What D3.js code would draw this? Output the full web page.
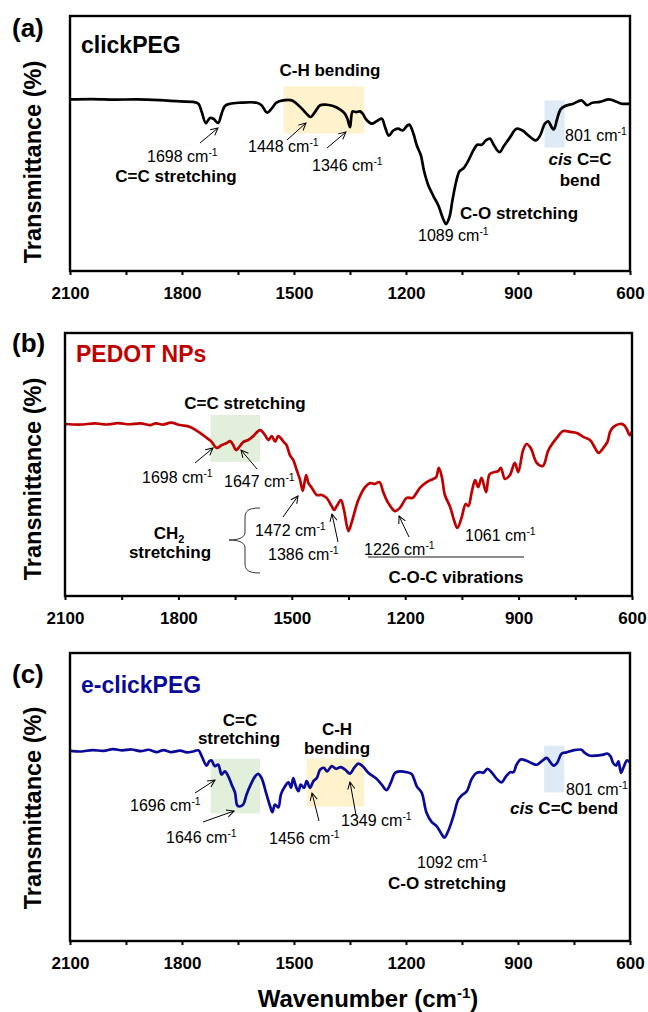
<!DOCTYPE html>
<html>
<head>
<meta charset="utf-8">
<script src="https://cdn.jsdelivr.net/npm/d3@7"></script>
<style>
	body { margin: 0; background: #fff; }
	svg { display: block; font-family: "Liberation Sans", Arial, sans-serif; }
</style>
</head>
<body>
<div id="chart"></div>
<script>
// ---- values ----
// x = wavenumber (cm-1), y = transmittance on an arbitrary 0-100 scale (no y ticks in the original)
const majorTicks = [2100, 1800, 1500, 1200, 900, 600];
const minorTicks = [1950, 1650, 1350, 1050, 750];

const clickPEG = [
	[2100, 67.3], [2040, 67.4], [1980, 67.2], [1920, 67.3], [1860, 67.0], [1805, 66.5], [1770, 66.3],
	[1756, 65.6], [1747, 62.3], [1736, 58.0], [1725, 60.0], [1716, 59.7], [1703, 58.1], [1694, 61.7],
	[1685, 64.7], [1671, 65.6], [1645, 66.0], [1600, 66.0], [1587, 65.0], [1572, 62.1], [1560, 63.7],
	[1547, 66.0], [1529, 66.9], [1506, 66.9], [1493, 65.6], [1477, 63.4], [1464, 61.3], [1455, 60.4],
	[1444, 62.3], [1430, 65.0], [1412, 65.2], [1395, 64.7], [1377, 63.4], [1364, 61.7], [1357, 59.7],
	[1350, 56.4], [1343, 62.6], [1334, 62.3], [1323, 62.6], [1316, 61.7], [1305, 59.1], [1292, 57.8],
	[1279, 58.7], [1265, 59.7], [1256, 56.4], [1246, 53.1], [1234, 55.1], [1221, 55.8], [1209, 55.1],
	[1198, 56.8], [1191, 57.4], [1180, 53.8], [1171, 49.2], [1160, 45.3], [1152, 39.4], [1140, 33.5],
	[1127, 29.5], [1113, 25.6], [1102, 21.0], [1093, 18.4], [1084, 21.0], [1075, 28.2], [1066, 34.8],
	[1057, 39.0], [1046, 40.3], [1033, 43.3], [1020, 47.2], [1009, 49.5], [997, 49.5], [986, 51.2],
	[975, 51.9], [964, 49.2], [950, 46.6], [937, 49.2], [921, 52.5], [904, 55.8], [888, 55.1],
	[870, 52.9], [852, 51.2], [841, 53.1], [828, 57.8], [819, 58.7], [810, 56.4], [804, 55.5],
	[795, 59.7], [786, 63.4], [774, 64.7], [752, 65.6], [730, 66.9], [715, 65.0], [701, 66.0],
	[681, 66.3], [656, 67.3], [638, 66.5], [623, 65.6], [600, 65.6]
];

const pedotNPs = [
	[2100, 65.4], [2060, 65.2], [2020, 65.6], [1990, 65.2], [1960, 65.7], [1930, 65.3], [1900, 65.6],
	[1875, 65.0], [1860, 65.6], [1840, 65.2], [1820, 65.9], [1796, 65.0], [1769, 64.3], [1743, 62.0],
	[1725, 60.1], [1712, 58.6], [1699, 56.3], [1685, 57.4], [1672, 58.2], [1663, 58.9], [1655, 57.4],
	[1648, 55.5], [1639, 56.7], [1628, 58.6], [1615, 59.3], [1602, 60.8], [1584, 63.1], [1571, 61.2],
	[1562, 59.3], [1553, 60.8], [1544, 58.7], [1536, 60.8], [1522, 58.7], [1514, 57.4], [1505, 53.6],
	[1496, 51.7], [1487, 47.9], [1478, 44.1], [1471, 40.0], [1462, 46.0], [1456, 42.9], [1447, 41.1],
	[1434, 38.4], [1421, 38.4], [1408, 37.3], [1394, 34.0], [1388, 32.7], [1381, 34.2], [1370, 36.5],
	[1362, 32.7], [1350, 24.7], [1342, 27.8], [1324, 36.5], [1306, 41.4], [1293, 42.9], [1280, 42.6],
	[1268, 43.3], [1258, 39.5], [1245, 35.4], [1227, 32.3], [1214, 33.5], [1196, 37.3], [1180, 37.3],
	[1170, 39.2], [1161, 41.1], [1143, 43.3], [1126, 44.5], [1118, 45.2], [1111, 48.7], [1103, 45.2],
	[1095, 38.4], [1081, 33.8], [1071, 28.9], [1062, 25.9], [1051, 29.7], [1040, 35.0], [1033, 34.2],
	[1024, 39.5], [1015, 44.1], [1007, 41.4], [998, 44.9], [986, 39.5], [976, 46.4], [954, 47.5],
	[947, 48.7], [936, 44.5], [923, 46.0], [910, 50.6], [901, 47.1], [888, 55.5], [879, 57.8],
	[868, 56.3], [852, 50.6], [836, 49.4], [821, 55.5], [799, 60.1], [782, 62.7], [764, 62.4],
	[746, 62.0], [729, 60.5], [711, 59.3], [698, 56.3], [689, 54.4], [680, 55.5], [674, 56.7],
	[665, 58.6], [658, 62.4], [649, 64.3], [632, 65.4], [621, 65.0], [614, 63.5], [606, 61.2], [600, 62.4]
];

const eClickPEG = [
	[2100, 66.0], [2070, 65.8], [2040, 66.3], [2010, 66.0], [1985, 66.6], [1960, 66.2], [1935, 66.5],
	[1910, 65.9], [1890, 66.4], [1867, 65.6], [1850, 66.3], [1830, 65.6], [1805, 66.1], [1787, 65.5],
	[1770, 65.8], [1756, 66.2], [1747, 64.1], [1734, 60.9], [1727, 62.4], [1721, 62.7], [1712, 60.7],
	[1703, 61.2], [1694, 57.8], [1685, 58.9], [1676, 57.2], [1667, 54.3], [1658, 51.5], [1652, 47.1],
	[1645, 46.7], [1636, 47.4], [1627, 50.9], [1616, 54.3], [1604, 57.2], [1596, 58.0], [1587, 56.6],
	[1575, 51.5], [1564, 46.8], [1558, 44.7], [1551, 47.4], [1542, 46.4], [1535, 50.9], [1524, 53.7],
	[1515, 55.1], [1508, 53.2], [1502, 56.6], [1495, 53.7], [1488, 52.0], [1482, 54.3], [1473, 53.2],
	[1466, 55.5], [1457, 53.2], [1448, 55.5], [1439, 56.6], [1430, 59.5], [1420, 60.1], [1411, 58.9],
	[1399, 60.7], [1387, 59.8], [1375, 60.4], [1363, 59.5], [1350, 58.1], [1339, 60.1], [1328, 61.6],
	[1316, 60.7], [1301, 58.4], [1279, 56.3], [1265, 54.3], [1252, 52.4], [1241, 54.9], [1229, 58.4],
	[1216, 58.9], [1198, 58.6], [1185, 58.0], [1171, 53.7], [1158, 51.5], [1145, 44.5], [1131, 41.3],
	[1118, 39.9], [1104, 37.0], [1097, 35.9], [1087, 38.2], [1073, 43.4], [1060, 49.1], [1051, 50.5],
	[1037, 52.0], [1024, 56.3], [1011, 58.4], [1000, 58.6], [993, 58.4], [982, 59.8], [971, 58.6],
	[957, 56.3], [944, 55.1], [932, 57.2], [921, 58.6], [912, 58.6], [904, 61.2], [893, 63.0],
	[879, 62.7], [864, 61.8], [850, 61.2], [837, 62.4], [823, 63.6], [813, 62.0], [804, 60.9],
	[795, 61.9], [783, 65.1], [770, 65.5], [752, 66.2], [730, 66.4], [721, 65.3], [709, 64.4],
	[689, 64.4], [671, 64.7], [661, 65.1], [652, 64.1], [645, 61.8], [637, 60.9], [631, 62.4],
	[624, 58.4], [617, 60.4], [608, 62.7], [600, 61.9]
];

// shaded regions: [from wavenumber, to wavenumber, low, high]
const bandsA = [[1528, 1312, 53.9, 72.4], [829, 775, 48.4, 66.9]];
const bandsB = [[1715, 1584, 51.0, 68.8]];
const bandsC = [[1723, 1591, 44.3, 63.3], [1466, 1312, 46.7, 63.3], [830, 776, 51.6, 67.8]];

// annotation text (k: wn = "#### cm-1", b = bold, cis = italic "cis" + bold rest, ch2 = CH2)
const notesA = [
	{ k: 'b', t: 'C-H bending', x: 330, y: 76, a: 'middle' },
	{ k: 'wn', t: '1698', x: 147, y: 162 },
	{ k: 'b', t: 'C=C stretching', x: 176, y: 182, a: 'middle' },
	{ k: 'wn', t: '1448', x: 248, y: 152 },
	{ k: 'wn', t: '1346', x: 312, y: 171 },
	{ k: 'wn', t: '801', x: 565, y: 141 },
	{ k: 'cis', t: 'C=C', x: 580, y: 165, a: 'middle' },
	{ k: 'b', t: 'bend', x: 580, y: 186, a: 'middle' },
	{ k: 'b', t: 'C-O stretching', x: 460, y: 219 },
	{ k: 'wn', t: '1089', x: 418, y: 241 }
];
const notesB = [
	{ k: 'b', t: 'C=C stretching', x: 245, y: 409, a: 'middle' },
	{ k: 'wn', t: '1698', x: 142, y: 483 },
	{ k: 'wn', t: '1647', x: 224, y: 487 },
	{ k: 'wn', t: '1472', x: 255, y: 536 },
	{ k: 'wn', t: '1386', x: 268, y: 560 },
	{ k: 'wn', t: '1226', x: 364, y: 555 },
	{ k: 'wn', t: '1061', x: 465, y: 541 },
	{ k: 'ch2', x: 169, y: 539, a: 'middle' },
	{ k: 'b', t: 'stretching', x: 170, y: 558, a: 'middle' },
	{ k: 'b', t: 'C-O-C vibrations', x: 456, y: 583, a: 'middle' }
];
const notesC = [
	{ k: 'b', t: 'C=C', x: 240, y: 726, a: 'middle' },
	{ k: 'b', t: 'stretching', x: 239, y: 744, a: 'middle' },
	{ k: 'b', t: 'C-H', x: 337, y: 735, a: 'middle' },
	{ k: 'b', t: 'bending', x: 337, y: 754, a: 'middle' },
	{ k: 'wn', t: '1696', x: 130, y: 811 },
	{ k: 'wn', t: '1646', x: 166, y: 843 },
	{ k: 'wn', t: '1456', x: 269, y: 844 },
	{ k: 'wn', t: '1349', x: 341, y: 826 },
	{ k: 'wn', t: '1092', x: 417, y: 868 },
	{ k: 'b', t: 'C-O stretching', x: 447, y: 889, a: 'middle' },
	{ k: 'wn', t: '801', x: 566, y: 795 },
	{ k: 'cis', t: 'C=C bend', x: 510, y: 814 }
];

// arrows [x1, y1, x2, y2] (tail -> head), page pixels
const arrowsA = [[200, 143, 218, 128], [287, 140, 306, 123], [327, 148, 346, 132]];
const arrowsB = [[195, 463, 213, 448], [257, 469, 241, 450], [283, 517, 298, 496], [338, 542, 332, 514], [409, 537, 399, 516]];
const arrowsC = [[195, 793, 215, 780], [203, 822, 234, 811], [319, 821, 312, 793], [356, 815, 350, 782]];

// ---- layout ----
const W = 648, H = 1012;
const font = '"Liberation Sans", Arial, sans-serif';

const panels = [
	{ tag: '(a)', name: 'clickPEG', color: '#000000', data: clickPEG, bands: bandsA, bandColors: ['#fff2cc', '#deebf7'],
		notes: notesA, arrows: arrowsA, box: { l: 70, r: 630, t: 16, b: 271 }, tagY: 37, nameY: 53, titleY: 162 },
	{ tag: '(b)', name: 'PEDOT NPs', color: '#c00000', data: pedotNPs, bands: bandsB, bandColors: ['#e2efda'],
		notes: notesB, arrows: arrowsB, box: { l: 65, r: 632, t: 333, b: 596 }, tagY: 352, nameY: 362, titleY: 479 },
	{ tag: '(c)', name: 'e-clickPEG', color: '#0a0a9a', data: eClickPEG, bands: bandsC, bandColors: ['#e2efda', '#fff2cc', '#deebf7'],
		notes: notesC, arrows: arrowsC, box: { l: 70, r: 630, t: 653, b: 941 }, tagY: 683, nameY: 693, titleY: 808 }
];

const svg = d3.select('#chart').append('svg')
	.attr('width', W)
	.attr('height', H)
	.attr('viewBox', [0, 0, W, H]);

// open arrowhead
svg.append('defs').append('marker')
	.attr('id', 'head')
	.attr('viewBox', '0 0 10 10')
	.attr('refX', 9).attr('refY', 5)
	.attr('markerWidth', 9).attr('markerHeight', 9)
	.attr('markerUnits', 'userSpaceOnUse')
	.attr('orient', 'auto')
	.append('path')
		.attr('d', 'M1,1 L9,5 L1,9')
		.attr('fill', 'none')
		.attr('stroke', '#000')
		.attr('stroke-width', 1.1);

function addNote(g, n) {
	const t = g.append('text')
		.attr('x', n.x)
		.attr('y', n.y)
		.attr('text-anchor', n.a || 'start')
		.attr('fill', '#000');
	if (n.k === 'wn') {
		t.attr('font-size', 16);
		t.append('tspan').text(n.t + ' cm');
		t.append('tspan').attr('font-size', 10.5).attr('dy', -6).text('-1');
	} else if (n.k === 'b') {
		t.attr('font-size', 17).attr('font-weight', 'bold').text(n.t);
	} else if (n.k === 'cis') {
		t.attr('font-size', 17).attr('font-weight', 'bold');
		t.append('tspan').attr('font-style', 'italic').text('cis');
		t.append('tspan').text(' ' + n.t);
	} else if (n.k === 'ch2') {
		t.attr('font-size', 17).attr('font-weight', 'bold');
		t.append('tspan').text('CH');
		t.append('tspan').attr('font-size', 11).attr('dy', 4).text('2');
	}
}

panels.forEach(function(p) {
	const x = d3.scaleLinear().domain([2100, 600]).range([p.box.l, p.box.r]);
	const y = d3.scaleLinear().domain([0, 100]).range([p.box.b, p.box.t]);
	const g = svg.append('g');

	// shaded bands sit under the trace
	g.selectAll('rect.band')
		.data(p.bands)
		.enter().append('rect')
			.attr('class', 'band')
			.attr('x', d => x(d[0]))
			.attr('width', d => x(d[1]) - x(d[0]))
			.attr('y', d => y(d[3]))
			.attr('height', d => y(d[2]) - y(d[3]))
			.attr('fill', (d, i) => p.bandColors[i]);

	const line = d3.line()
		.x(d => x(d[0]))
		.y(d => y(d[1]))
		.curve(d3.curveCatmullRom.alpha(0.5));

	g.append('path')
		.datum(p.data)
		.attr('d', line)
		.attr('fill', 'none')
		.attr('stroke', p.color)
		.attr('stroke-width', 2.7)
		.attr('stroke-linejoin', 'round');

	// frame
	g.append('rect')
		.attr('x', p.box.l).attr('y', p.box.t)
		.attr('width', p.box.r - p.box.l)
		.attr('height', p.box.b - p.box.t)
		.attr('fill', 'none')
		.attr('stroke', '#000')
		.attr('stroke-width', 2.4);

	// x axis: labelled major ticks + unlabelled minor ticks
	const xAxis = d3.axisBottom(x)
		.tickValues(majorTicks)
		.tickSize(4)
		.tickPadding(12)
		.tickFormat(d3.format('d'));
	const ax = g.append('g')
		.attr('transform', 'translate(0,' + p.box.b + ')')
		.call(xAxis);
	ax.select('.domain').remove();
	ax.selectAll('line').attr('stroke', '#000').attr('stroke-width', 2);
	ax.selectAll('text')
		.attr('font-family', font)
		.attr('font-size', 17)
		.attr('font-weight', 'bold')
		.attr('fill', '#000');

	const minor = g.append('g')
		.attr('transform', 'translate(0,' + p.box.b + ')')
		.call(d3.axisBottom(x).tickValues(minorTicks).tickSize(4).tickFormat(''));
	minor.select('.domain').remove();
	minor.selectAll('line').attr('stroke', '#000').attr('stroke-width', 2);

	// panel tag, sample name, y title
	g.append('text')
		.attr('x', 12).attr('y', p.tagY)
		.attr('font-size', 26).attr('font-weight', 'bold')
		.text(p.tag);
	g.append('text')
		.attr('x', p.box.l + 11).attr('y', p.nameY)
		.attr('font-size', 23).attr('font-weight', 'bold')
		.attr('fill', p.color)
		.text(p.name);
	g.append('text')
		.attr('transform', 'translate(41,' + p.titleY + ') rotate(-90)')
		.attr('text-anchor', 'middle')
		.attr('font-size', 23.5).attr('font-weight', 'bold')
		.text('Transmittance (%)');

	p.notes.forEach(n => addNote(g, n));

	g.selectAll('line.arrow')
		.data(p.arrows)
		.enter().append('line')
			.attr('class', 'arrow')
			.attr('x1', d => d[0]).attr('y1', d => d[1])
			.attr('x2', d => d[2]).attr('y2', d => d[3])
			.attr('stroke', '#000')
			.attr('stroke-width', 1)
			.attr('marker-end', 'url(#head)');
});

// extras on panel (b): brace for CH2 and the C-O-C underline
svg.append('path')
	.attr('d', 'M260,508 C248,508 245,511 245,518 L245,532 C245,537 240,540 229,540 C240,540 245,543 245,548 L245,563 C245,570 248,573 260,573')
	.attr('fill', 'none')
	.attr('stroke', '#333')
	.attr('stroke-width', 1);
svg.append('line')
	.attr('x1', 368).attr('x2', 524)
	.attr('y1', 557).attr('y2', 557)
	.attr('stroke', '#666')
	.attr('stroke-width', 1.3);

// shared x title
const xt = svg.append('text')
	.attr('x', 368).attr('y', 1007)
	.attr('text-anchor', 'middle')
	.attr('font-size', 24).attr('font-weight', 'bold');
xt.append('tspan').text('Wavenumber (cm');
xt.append('tspan').attr('font-size', 15).attr('dy', -9).text('-1');
xt.append('tspan').attr('dy', 9).text(')');
</script>
</body>
</html>
